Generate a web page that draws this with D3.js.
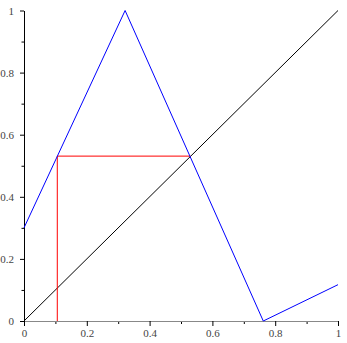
<!DOCTYPE html>
<html>
<head>
<meta charset="utf-8">
<script src="https://cdn.jsdelivr.net/npm/d3@7"></script>
<style>
body { margin: 0; background: #fff; }
</style>
</head>
<body>
<script>
// map curve (blue), diagonal y = x, and the cobweb step (red)
var curveX = [0, 0.322, 0.762, 1];
var curveY = [0.3, 1, 0, 0.117];
var diagX = [0, 1];
var diagY = [0, 1];
var stepX = [0.106, 0.106, 0.53];
var stepY = [0, 0.531, 0.531];
var majorTicks = [0, 0.2, 0.4, 0.6, 0.8, 1];
var minorTicks = [0.1, 0.3, 0.5, 0.7, 0.9];
var tickLabels = ["0", "0.2", "0.4", "0.6", "0.8", "1"];

var w = 347;
var h = 343;

var svg = d3.select("body")
            .append("svg")
            .attr("width", w)
            .attr("height", h);

var xScale = d3.scaleLinear().domain([0, 1]).range([24, 338]);
var yScale = d3.scaleLinear().domain([0, 1]).range([321, 10.5]);

function fmt(d) { return tickLabels[majorTicks.indexOf(d)]; }

//minor ticks
svg.append("g")
    .attr("transform", "translate(0," + yScale(0) + ")")
    .call(d3.axisBottom(xScale).tickValues(minorTicks).tickSize(3).tickFormat(""))
    .call(function(g){ g.select(".domain").remove(); });
svg.append("g")
    .attr("transform", "translate(" + xScale(0) + ",0)")
    .call(d3.axisLeft(yScale).tickValues(minorTicks).tickSize(2.5).tickFormat(""))
    .call(function(g){ g.select(".domain").remove(); });

//X axis
var xAxis = svg.append("g")
    .attr("transform", "translate(0," + yScale(0) + ")")
    .call(d3.axisBottom(xScale).tickValues(majorTicks).tickSize(5).tickSizeOuter(0).tickPadding(3).tickFormat(fmt));
xAxis.select(".domain").attr("stroke", "#888");

//Y axis
var yAxis = svg.append("g")
    .attr("transform", "translate(" + xScale(0) + ",0)")
    .call(d3.axisLeft(yScale).tickValues(majorTicks).tickSize(4).tickSizeOuter(0).tickPadding(6).tickFormat(fmt));
yAxis.select(".domain").attr("stroke", "#000");
svg.selectAll(".tick line").attr("stroke", "#000");
svg.selectAll(".tick text")
    .attr("font-family", "'Liberation Serif', 'DejaVu Serif', serif")
    .attr("font-size", "11px")
    .attr("fill", "#444");

var line = d3.line()
    .x(function(d){ return xScale(d[0]); })
    .y(function(d){ return yScale(d[1]); });

function pts(xs, ys) { return xs.map(function(x, i){ return [x, ys[i]]; }); }

svg.append("path")
    .datum(pts(diagX, diagY))
    .attr("fill", "none")
    .attr("stroke", "#000")
    .attr("stroke-width", 1)
    .attr("d", line);

svg.append("path")
    .datum(pts(stepX, stepY))
    .attr("fill", "none")
    .attr("stroke", "#ff0000")
    .attr("stroke-width", 1)
    .attr("d", line);

svg.append("path")
    .datum(pts(curveX, curveY))
    .attr("fill", "none")
    .attr("stroke", "#0000ff")
    .attr("stroke-width", 1)
    .attr("d", line);
</script>
</body>
</html>
